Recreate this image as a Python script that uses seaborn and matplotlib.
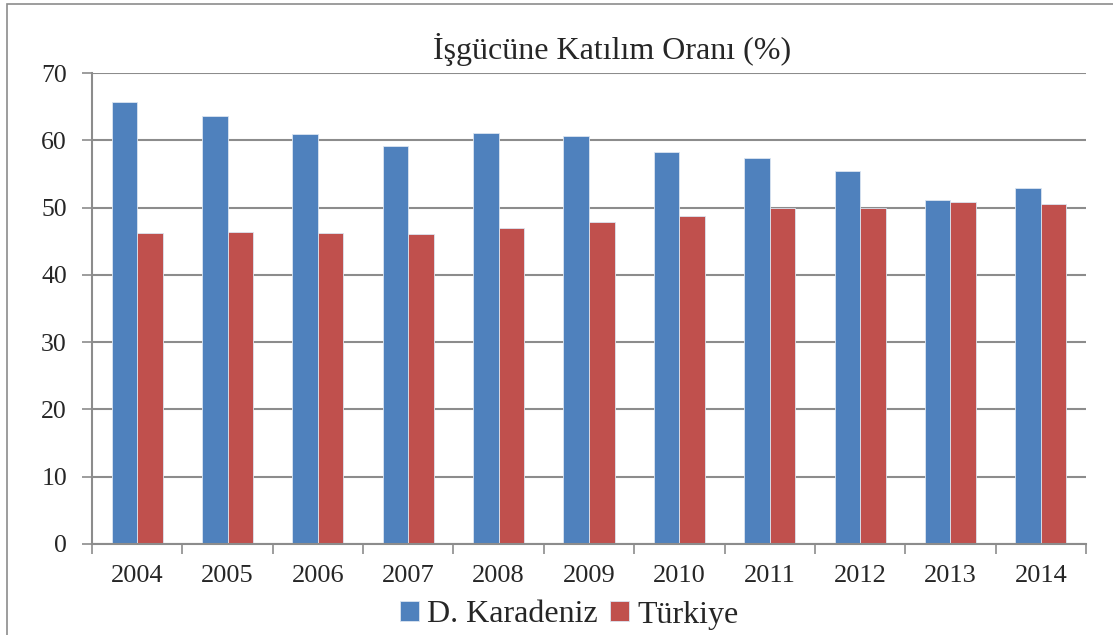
import numpy as np
import pandas as pd
import matplotlib
matplotlib.use("Agg")
import matplotlib.pyplot as plt
import seaborn as sns
from matplotlib.patches import Rectangle

years = ["2004", "2005", "2006", "2007", "2008", "2009", "2010", "2011", "2012", "2013", "2014"]
karadeniz = [65.7, 63.6, 61.0, 59.1, 61.1, 60.6, 58.2, 57.4, 55.5, 51.1, 52.9]
turkiye = [46.2, 46.3, 46.2, 46.1, 46.9, 47.9, 48.8, 50.0, 50.0, 50.8, 50.5]
series_names = ["D. Karadeniz", "Türkiye"]
yticks = [0, 10, 20, 30, 40, 50, 60, 70]
title = "İşgücüne Katılım Oranı (%)"

df = pd.DataFrame({
    "Yıl": years * 2,
    "Değer": karadeniz + turkiye,
    "Seri": [series_names[0]] * len(years) + [series_names[1]] * len(years),
})

sns.set_theme(style="white")
plt.rcParams["font.family"] = ["Liberation Serif", "DejaVu Serif"]

fig = plt.figure(figsize=(11.13, 6.35), dpi=100)
ax = fig.add_axes([92 / 1113, 1 - 544 / 635, (1086 - 92) / 1113, (544 - 73) / 635])

palette = {series_names[0]: "#4F81BD", series_names[1]: "#C0504D"}
sns.barplot(data=df, x="Yıl", y="Değer", hue="Seri", palette=palette, width=0.565,
            gap=0, saturation=1, ax=ax, edgecolor="#dbe5f1", linewidth=0.6, legend=True)

ax.set_xlim(-0.5, len(years) - 0.5)
ax.set_ylim(0, 70)
ax.set_yticks(yticks)
ax.set_yticklabels([str(v) for v in yticks], fontsize=18.5)
ax.grid(axis="y", color="#8c8c8c", linewidth=1.5)
ax.set_axisbelow(True)
ax.set_xlabel("")
ax.set_ylabel("")

ax.set_xticks(range(len(years)))
ax.set_xticklabels(years, fontsize=19)
ax.tick_params(axis="x", which="major", length=0, pad=15)
ax.set_xticks(np.arange(-0.5, len(years), 1), minor=True)
ax.tick_params(axis="x", which="minor", length=7, width=1.2, color="#8c8c8c", direction="out", bottom=True)
ax.tick_params(axis="y", length=7, width=1.2, color="#8c8c8c", direction="out", left=True, pad=11)

for s in ["top", "right"]:
    ax.spines[s].set_visible(False)
for s in ["left", "bottom"]:
    ax.spines[s].set_color("#8c8c8c")
    ax.spines[s].set_linewidth(1.5)

leg = ax.legend(loc="center", bbox_to_anchor=((569 - 92) / (1086 - 92), -(615 - 544) / (544 - 73)),
                ncol=2, frameon=False,
                fontsize=23, handlelength=0.6, handleheight=0.6, handletextpad=0.25,
                columnspacing=0.4, borderaxespad=0)

fig.text(612 / 1113, 1 - 49 / 635, title, ha="center", va="center", fontsize=23)

fig.patches.append(Rectangle((7 / 1113, -0.1), 1.2, 1.1 - 4 / 635,
                             transform=fig.transFigure, fill=False, edgecolor="#8c8c8c",
                             linewidth=1.2, figure=fig))

fig.savefig("out.png", dpi=100)
